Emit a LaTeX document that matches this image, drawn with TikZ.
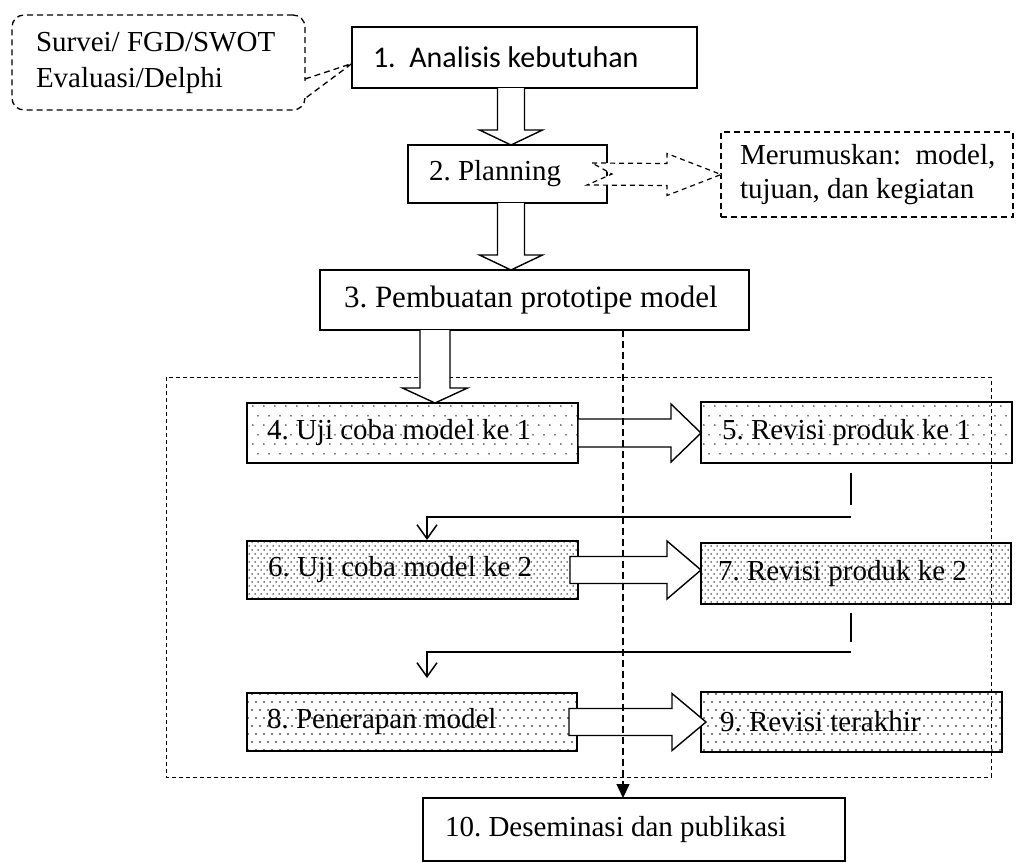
\documentclass[tikz,border=0pt]{standalone}
\usepackage{fontspec}
\setmainfont{Liberation Serif}
\newfontfamily\calibrifont{Carlito}
\usetikzlibrary{calc,patterns,arrows.meta}

% dot fills for the trial / revision boxes
\pgfdeclarepatternformonly{sparsedots}{\pgfqpoint{-1pt}{-1pt}}{\pgfqpoint{10pt}{18pt}}{\pgfqpoint{11pt}{19pt}}{%
  \pgfpathcircle{\pgfqpoint{0pt}{0pt}}{0.85pt}%
  \pgfpathcircle{\pgfqpoint{5.5pt}{9.5pt}}{0.85pt}%
  \pgfusepath{fill}}
\pgfdeclarepatternformonly{densedots}{\pgfqpoint{-1pt}{-1pt}}{\pgfqpoint{5pt}{7pt}}{\pgfqpoint{6pt}{8pt}}{%
  \pgfpathcircle{\pgfqpoint{0pt}{0pt}}{0.75pt}%
  \pgfpathcircle{\pgfqpoint{3pt}{4pt}}{0.75pt}%
  \pgfusepath{fill}}
\pgfdeclarepatternformonly{meddots}{\pgfqpoint{-1pt}{-1pt}}{\pgfqpoint{7pt}{15pt}}{\pgfqpoint{8pt}{16pt}}{%
  \pgfpathcircle{\pgfqpoint{0pt}{0pt}}{0.8pt}%
  \pgfpathcircle{\pgfqpoint{4pt}{8pt}}{0.8pt}%
  \pgfusepath{fill}}

% hollow block arrows: tail point, tip point, half shaft, half head, head length
\newcommand{\vhollow}[5]{%
  \path[blockarrow] ($#1+(-#3,0)$) -- ($#2+(-#3,-#5)$) -- ($#2+(-#4,-#5)$) -- #2
    -- ($#2+(#4,-#5)$) -- ($#2+(#3,-#5)$) -- ($#1+(#3,0)$);}
\newcommand{\hhollow}[5]{%
  \path[blockarrow] ($#1+(0,-#3)$) -- ($#2+(-#5,-#3)$) -- ($#2+(-#5,-#4)$) -- #2
    -- ($#2+(-#5,#4)$) -- ($#2+(-#5,#3)$) -- ($#1+(0,#3)$) -- cycle;}

\begin{document}
\frenchspacing
\begin{tikzpicture}[x=1pt,y=-1pt,
  box/.style={draw, line width=1.4pt, anchor=north west, inner xsep=20pt,
    inner ysep=0pt, outer sep=0pt, align=flush left,
    execute at begin node={\spaceskip=0pt\xspaceskip=0pt},
    font=\fontsize{29}{36}\selectfont},
  dashbox/.style={box, line width=1.3pt, dash pattern=on 6pt off 4pt},
  blockarrow/.style={draw, fill=white, line width=1.4pt, line join=miter},
  dashedarrow/.style={draw, fill=white, line width=1.2pt, dash pattern=on 5pt off 4pt},
  calloutline/.style={draw, line width=1.3pt, dash pattern=on 6pt off 4pt},
  frame/.style={draw, line width=0.9pt, dash pattern=on 4pt off 3pt},
  link/.style={draw, line width=1.5pt},
  guide/.style={draw, line width=1.4pt, dash pattern=on 7pt off 4pt}]
\useasboundingbox (0,0) rectangle (1016,862);

% frame around the trial and revision cycle
\path[frame] (166,377) rectangle (991,777);

% steps
\node[dashbox, rounded corners=12pt, minimum width=293pt, minimum height=95pt,
  inner xsep=24pt, text width=245pt] (sv) at (12,15)
  {\mbox{Survei/ FGD/SWOT}\\\mbox{Evaluasi/Delphi}};
\node[box, minimum width=345pt, minimum height=61pt, inner xsep=21pt, text width=303pt,
  font=\calibrifont\fontsize{30}{36}\selectfont] (n1) at (352,27) {\mbox{1.\ \ Analisis kebutuhan}};
\node[box, minimum width=199pt, minimum height=58pt, inner xsep=21pt, text width=157pt]
  (n2) at (408,145) {\mbox{2. Planning}};
\node[dashbox, minimum width=292pt, minimum height=85pt, inner xsep=19pt, text width=254pt,
  font=\fontsize{29}{34}\selectfont] (mr) at (721,132)
  {\mbox{Merumuskan:\ \ model,}\\\mbox{tujuan, dan kegiatan}};
\node[box, minimum width=429pt, minimum height=60pt, inner xsep=24pt, text width=381pt,
  font=\fontsize{31}{36}\selectfont] (n3) at (320,270) {\mbox{3. Pembuatan prototipe model}};
\node[box, pattern=sparsedots, minimum width=331pt, minimum height=60pt, text width=291pt]
  (n4) at (247,403) {\mbox{4. Uji coba model ke 1}};
\node[box, pattern=sparsedots, minimum width=311pt, minimum height=61pt, inner xsep=21pt,
  text width=269pt] (n5) at (701,402) {\mbox{5. Revisi produk ke 1}};
\node[box, pattern=densedots, minimum width=331pt, minimum height=58pt, inner xsep=21pt,
  text width=289pt] (n6) at (247,541) {\mbox{6. Uji coba model ke 2}};
\node[box, pattern=densedots, minimum width=310pt, minimum height=61pt, inner xsep=17pt,
  text width=276pt] (n7) at (701,543) {\mbox{7. Revisi produk ke 2}};
\node[box, pattern=meddots, minimum width=330pt, minimum height=58pt, text width=290pt]
  (n8) at (247,693) {\mbox{8. Penerapan model}};
\node[box, pattern=meddots, minimum width=301pt, minimum height=60pt, inner xsep=19pt,
  text width=263pt] (n9) at (701,692) {\mbox{9. Revisi terakhir}};
\node[box, minimum width=422pt, minimum height=63pt, inner xsep=22pt, text width=378pt]
  (n10) at (423,798) {\mbox{10. Deseminasi dan publikasi}};

% callout pointer from the source box to step 1
\coordinate (wtip) at ($(n1.west)+(0,6)$);
\fill[white] ($(sv.east)+(-2,18)$) rectangle ($(sv.east)+(2,35)$);
\path[calloutline] ($(sv.east)+(0,16.5)$) -- (wtip) -- ($(sv.east)+(0,36)$);

% axes of the vertical connectors
\coordinate (a12) at (511,0);
\coordinate (a34) at (435,0);
\coordinate (vx) at (623,0);
\coordinate (ex) at (851,0);
\coordinate (dx) at (427,0);

% hollow arrows along the main flow
\vhollow{(a12 |- n1.south)}{(a12 |- n2.north)}{13.5}{31.5}{15}
\vhollow{(a12 |- n2.south)}{(a12 |- n3.north)}{13.5}{31.5}{15}
\vhollow{(a34 |- n3.south)}{(a34 |- n4.north)}{15}{32.5}{15}
\hhollow{(n4.east)}{(n4.east -| n5.west)}{14}{29}{30}
\hhollow{($(n6.east)+(-8,0)$)}{(n6.east -| n7.west)}{13.5}{29}{34}
\hhollow{($(n8.east)+(-8,0)$)}{($(n8.east -| n9.west)+(5,0)$)}{13.5}{28.5}{34}

% dashed notched arrow from planning to its outcomes
\path[dashedarrow] ($(n2.east)+(-15,-11)$) -- ($(mr.west)+(-54,-11)$) -- ($(mr.west)+(-54,-21)$)
  -- (mr.west) -- ($(mr.west)+(-54,21)$) -- ($(mr.west)+(-54,11)$)
  -- ($(n2.east)+(-20,11)$) -- ($(n2.east)+(5,0)$) -- cycle;

% returns from each revision to the next trial
\path[link] ($(ex |- n5.south)+(0,10)$) -- ($(ex |- n5.south)+(0,42)$);
\path[link, -{Straight Barb[length=14pt,width=20pt]}]
  ($(ex |- n5.south)+(0,54)$) -| ($(dx |- n6.north)+(0,-1)$);
\path[link] ($(ex |- n7.south)+(0,9)$) -- ($(ex |- n7.south)+(0,38)$);
\path[link, -{Straight Barb[length=14pt,width=20pt]}]
  ($(ex |- n7.south)+(0,48)$) -| ($(dx |- n8.north)+(0,-15)$);

% dashed guide from the prototype down to dissemination
\path[guide, -{Triangle[length=14pt,width=13pt]}] (vx |- n3.south) -- (vx |- n10.north);
\end{tikzpicture}
\end{document}
